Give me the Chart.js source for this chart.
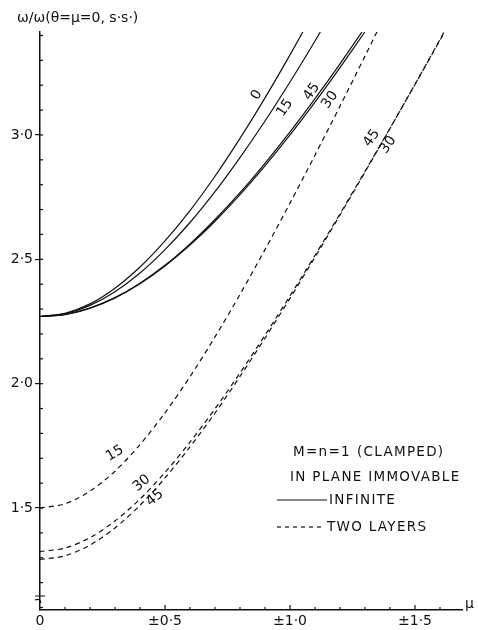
<!DOCTYPE html>
<html>
<head>
<meta charset="utf-8">
<script src="https://cdn.jsdelivr.net/npm/chart.js@4.4.0/dist/chart.umd.min.js"></script>
<style>
  body { margin: 0; background: #fff; }
  canvas { display: block; }
</style>
</head>
<body>
<canvas id="grafico" width="478" height="630"></canvas>
<script>
// valores de mu (eje x)
const mu = [0, 0.1, 0.2, 0.3, 0.4, 0.5, 0.6, 0.7, 0.8, 0.9, 1.0, 1.1, 1.2, 1.3, 1.4, 1.5, 1.6, 1.7];

// curvas continuas (INFINITE), theta = 0, 15, 30, 45
const infinito0 = [2.270, 2.283, 2.321, 2.384, 2.469, 2.574, 2.696, 2.834, 2.986, 3.149, 3.322, 3.503];
const infinito15 = [2.270, 2.281, 2.315, 2.370, 2.445, 2.539, 2.648, 2.772, 2.909, 3.056, 3.213, 3.378, 3.549];
const infinito30 = [2.270, 2.278, 2.304, 2.345, 2.402, 2.473, 2.557, 2.653, 2.760, 2.876, 3.000, 3.132, 3.271, 3.415, 3.564];
const infinito45 = [2.270, 2.279, 2.304, 2.346, 2.404, 2.476, 2.562, 2.660, 2.768, 2.886, 3.012, 3.146, 3.286, 3.432];

// curvas a trazos (TWO LAYERS), theta = 15, 30, 45
const dosCapas15 = [1.500, 1.517, 1.568, 1.648, 1.755, 1.883, 2.028, 2.188, 2.359, 2.539, 2.726, 2.919, 3.116, 3.317, 3.522];
const dosCapas30 = [1.325, 1.339, 1.381, 1.448, 1.536, 1.643, 1.765, 1.899, 2.043, 2.195, 2.353, 2.516, 2.683, 2.854, 3.027, 3.203, 3.381, 3.561];
const dosCapas45 = [1.293, 1.308, 1.351, 1.420, 1.511, 1.621, 1.746, 1.882, 2.029, 2.183, 2.343, 2.509, 2.678, 2.851, 3.026, 3.204, 3.384, 3.565];

// etiquetas de los ejes
const xTickValues = [0, 0.5, 1.0, 1.5];
const xTickLabels = ['0', '±0·5', '±1·0', '±1·5'];
const yTickValues = [1.5, 2.0, 2.5, 3.0];
const yTickLabels = ['1·5', '2·0', '2·5', '3·0'];

// etiquetas de las curvas: [texto, mu, valor, angulo]
const etiquetas = [
  ['0', 0.867, 3.161, -58],
  ['15', 0.98, 3.109, -56],
  ['45', 1.087, 3.174, -55],
  ['30', 1.16, 3.141, -55],
  ['45', 1.327, 2.987, -55],
  ['30', 1.393, 2.96, -55],
  ['15', 0.30, 1.72, -30],
  ['30', 0.407, 1.60, -40],
  ['45', 0.46, 1.54, -40]
];

const FUENTE = '"DejaVu Sans", sans-serif';

function puntos(valores) {
  return valores.map((v, i) => ({ x: mu[i], y: v }));
}

function serie(valores, discontinua) {
  return {
    data: puntos(valores),
    borderColor: '#111',
    borderWidth: 1.2,
    borderDash: discontinua ? [5, 4] : [],
    pointRadius: 0,
    tension: 0.3,
    fill: false
  };
}

const marcas = {
  id: 'marcas',
  afterDraw(chart) {
    const { ctx, scales: { x, y } } = chart;
    ctx.save();
    ctx.strokeStyle = '#111';
    ctx.fillStyle = '#111';
    ctx.lineWidth = 1.2;

    // ticks menores del eje x (hacia dentro)
    for (let i = 1; i <= 16; i++) {
      const px = x.getPixelForValue(i / 10);
      const largo = i % 5 === 0 ? 5 : 3;
      ctx.beginPath();
      ctx.moveTo(px, y.bottom);
      ctx.lineTo(px, y.bottom - largo);
      ctx.stroke();
    }
    // ticks menores del eje y
    for (let i = 11; i <= 34; i++) {
      const py = y.getPixelForValue(i / 10);
      ctx.beginPath();
      ctx.moveTo(x.left, py);
      ctx.lineTo(x.left + 3, py);
      ctx.stroke();
    }
    // corte del eje y
    const yc = y.bottom - 13;
    ctx.beginPath();
    ctx.moveTo(x.left - 5, yc - 1);
    ctx.lineTo(x.left + 5, yc - 1);
    ctx.moveTo(x.left - 5, yc + 3);
    ctx.quadraticCurveTo(x.left, yc + 1, x.left + 1, yc + 6);
    ctx.stroke();

    // titulo del eje y
    ctx.font = '14px ' + FUENTE;
    ctx.textBaseline = 'middle';
    ctx.textAlign = 'left';
    ctx.fillText('ω/ω(θ=μ=0, s·s·)', 17, 18);
    // titulo del eje x
    ctx.font = '14px ' + FUENTE;
    ctx.fillText('μ', 465, 604);

    // etiquetas de las curvas
    ctx.font = '14px ' + FUENTE;
    ctx.textAlign = 'center';
    etiquetas.forEach(([texto, m, v, ang]) => {
      ctx.save();
      ctx.translate(x.getPixelForValue(m), y.getPixelForValue(v));
      ctx.rotate(ang * Math.PI / 180);
      ctx.fillText(texto, 0, 0);
      ctx.restore();
    });

    // leyenda
    ctx.textAlign = 'left';
    ctx.font = '13.5px ' + FUENTE;
    ctx.letterSpacing = '1.3px';
    ctx.fillText('M=n=1', 293, 452);
    ctx.fillText('(CLAMPED)', 357, 452);
    ctx.fillText('IN PLANE IMMOVABLE', 290, 477);
    ctx.fillText('INFINITE', 329, 500);
    ctx.fillText('TWO LAYERS', 327, 527);
    ctx.beginPath();
    ctx.moveTo(277, 500);
    ctx.lineTo(327, 500);
    ctx.stroke();
    ctx.setLineDash([4, 4]);
    ctx.beginPath();
    ctx.moveTo(277, 527);
    ctx.lineTo(325, 527);
    ctx.stroke();
    ctx.restore();
  }
};

new Chart(document.getElementById('grafico'), {
  type: 'line',
  data: {
    datasets: [
      serie(infinito0, false),
      serie(infinito15, false),
      serie(infinito30, false),
      serie(infinito45, false),
      serie(dosCapas15, true),
      serie(dosCapas30, true),
      serie(dosCapas45, true)
    ]
  },
  options: {
    responsive: false,
    animation: false,
    layout: { padding: { top: 32, right: 16, left: 0, bottom: 0 } },
    plugins: {
      legend: { display: false },
      tooltip: { enabled: false }
    },
    scales: {
      x: {
        type: 'linear',
        min: 0,
        max: 1.688,
        afterBuildTicks: scale => { scale.ticks = xTickValues.map(v => ({ value: v })); },
        afterFit: scale => { scale.height = 20; },
        grid: { display: false, drawTicks: false, tickLength: 0 },
        border: { display: true, color: '#111', width: 1.5 },
        ticks: {
          padding: 3,
          color: '#111',
          font: { family: FUENTE, size: 14 },
          maxRotation: 0,
          callback: (val, i) => xTickLabels[i]
        }
      },
      y: {
        type: 'linear',
        min: 1.09,
        max: 3.414,
        afterBuildTicks: scale => { scale.ticks = yTickValues.map(v => ({ value: v })); },
        afterFit: scale => { scale.width = 40; },
        grid: { display: true, drawOnChartArea: false, drawTicks: true, tickLength: 5, color: '#111', lineWidth: 1.2 },
        border: { display: true, color: '#111', width: 1.5 },
        ticks: {
          padding: 2,
          color: '#111',
          font: { family: FUENTE, size: 14 },
          callback: (val, i) => yTickLabels[i]
        }
      }
    }
  },
  plugins: [marcas]
});
</script>
</body>
</html>
